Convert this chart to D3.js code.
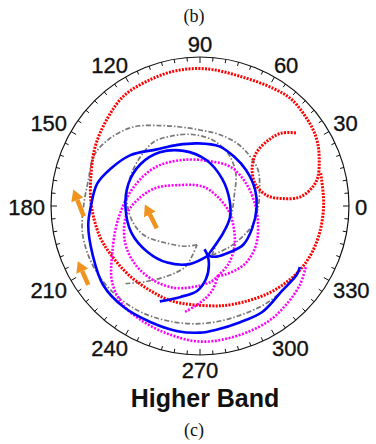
<!DOCTYPE html>
<html>
<head>
<meta charset="utf-8">
<script src="https://cdn.jsdelivr.net/npm/d3@7"></script>
<style>
  html, body { margin: 0; padding: 0; background: #fff; }
  svg { display: block; }
</style>
</head>
<body>
<div id="chart"></div>
<script>
// reflection coefficient loci, [re, im] in units of the outer circle
const redLocus = [
  [0.81,0.22],[0.83,0.01],[0.80,-0.19],[0.73,-0.35],[0.62,-0.48],[0.45,-0.59],[0.22,-0.66],[0.07,-0.67],
  [-0.18,-0.64],[-0.33,-0.57],[-0.47,-0.47],[-0.58,-0.35],[-0.67,-0.21],[-0.73,0.01],[-0.73,0.23],
  [-0.70,0.41],[-0.62,0.59],[-0.51,0.74],[-0.33,0.85],[-0.15,0.91],[0.05,0.92],[0.27,0.87],[0.49,0.79],
  [0.62,0.71],[0.75,0.53],[0.79,0.42],[0.80,0.31],[0.79,0.19],[0.75,0.12],[0.67,0.06],[0.55,0.05],
  [0.45,0.07],[0.37,0.15],[0.35,0.26],[0.38,0.36],[0.47,0.45],[0.55,0.49],[0.65,0.49]
];

const blueTail = [
  [-0.27,-0.64],[-0.13,-0.61],[-0.02,-0.57],[0.04,-0.49],[0.06,-0.39],[0.05,-0.33],[0.03,-0.29]
];
const blueLoops = [
  [0.06,-0.33],[-0.07,-0.39],[-0.22,-0.38],[-0.35,-0.31],[-0.46,-0.18],[-0.50,-0.01],[-0.48,0.15],
  [-0.40,0.28],[-0.27,0.36],[-0.11,0.37],[0.04,0.31],[0.15,0.18],[0.20,0.03],[0.20,-0.08],[0.15,-0.19],
  [0.09,-0.28],[0.06,-0.33],[0.11,-0.34],[0.20,-0.31],[0.29,-0.26],[0.35,-0.15],[0.38,-0.01],[0.37,0.11],
  [0.31,0.24],[0.23,0.33],[0.13,0.40],[-0.01,0.42],[-0.15,0.41],[-0.29,0.38],[-0.47,0.34],[-0.60,0.25],
  [-0.69,0.15],[-0.73,0.01],[-0.75,-0.13],[-0.72,-0.33],[-0.65,-0.53],[-0.51,-0.68],[-0.33,-0.78],
  [-0.15,-0.84],[0,-0.85],[0.11,-0.83],[0.27,-0.78],[0.42,-0.71],[0.55,-0.57],[0.65,-0.46],[0.67,-0.41]
];

const grayTail = [
  [-0.50,-0.52],[-0.38,-0.51],[-0.22,-0.47],[-0.10,-0.41],[-0.05,-0.33],[-0.02,-0.26]
];
const grayInner = [
  [-0.02,-0.26],[-0.10,-0.27],[-0.22,-0.25],[-0.37,-0.20],[-0.45,-0.11],[-0.49,0.03],[-0.47,0.19],
  [-0.40,0.33],[-0.31,0.43],[-0.19,0.47],[-0.05,0.48],[0.09,0.44],[0.19,0.35],[0.24,0.22],[0.23,0.07],
  [0.21,-0.06],[0.17,-0.16],[0.11,-0.26],[0.08,-0.33]
];
const grayOuter = [
  [0.08,-0.33],[0.19,-0.28],[0.28,-0.21],[0.35,-0.13],[0.39,-0.01],[0.40,0.11],[0.39,0.24],[0.33,0.34],
  [0.25,0.42],[0.13,0.48],[0,0.51],[-0.13,0.53],[-0.27,0.54],[-0.45,0.53],[-0.61,0.45],[-0.71,0.34],
  [-0.75,0.17],[-0.78,0.01],[-0.79,-0.17],[-0.75,-0.33],[-0.67,-0.48],[-0.55,-0.61],[-0.40,-0.71],
  [-0.22,-0.77],[0,-0.79],[0.22,-0.75],[0.45,-0.65],[0.58,-0.54],[0.65,-0.45]
];

const magentaTail = [
  [-0.10,-0.71],[0,-0.65],[0.08,-0.57],[0.12,-0.47]
];
const magentaInner = [
  [0.12,-0.47],[0.19,-0.39],[0.23,-0.28],[0.23,-0.17],[0.20,-0.05],[0.13,0.05],[0.02,0.13],[-0.15,0.14],
  [-0.30,0.12],[-0.41,0.05],[-0.49,-0.05],[-0.51,-0.17],[-0.49,-0.29],[-0.42,-0.41],[-0.31,-0.50],
  [-0.17,-0.55],[-0.03,-0.54],[0.07,-0.51],[0.12,-0.47]
];
const magentaOuter = [
  [0.12,-0.47],[0.17,-0.46],[0.30,-0.39],[0.37,-0.28],[0.39,-0.15],[0.37,0.01],[0.31,0.15],[0.21,0.26],
  [0.07,0.30],[-0.11,0.31],[-0.30,0.26],[-0.45,0.12],[-0.55,-0.09],[-0.59,-0.33],[-0.59,-0.51],
  [-0.52,-0.66],[-0.39,-0.77],[-0.21,-0.86],[0,-0.91],[0.22,-0.88],[0.45,-0.78],[0.58,-0.66],
  [0.67,-0.53],[0.71,-0.41]
];

// annotation arrows: [tailRe, tailIm, tipRe, tipIm]
const arrows = [
  [-0.78,-0.07,-0.85,0.11],
  [-0.29,-0.15,-0.37,0.01],
  [-0.75,-0.53,-0.82,-0.37]
];

const tickAngles = d3.range(0, 360, 5);
const labelAngles = d3.range(0, 360, 30);
const bandTitle = 'Higher Band';
const captionTop = '(b)';
const captionBottom = '(c)';

const width = 376, height = 444;
const cx = 200, cy = 206, R = 149;

const svg = d3.select('#chart').append('svg')
  .attr('width', width)
  .attr('height', height);

const x = d3.scaleLinear().domain([-1, 1]).range([cx - R, cx + R]);
const y = d3.scaleLinear().domain([-1, 1]).range([cy + R, cy - R]);
const rad = d => d * Math.PI / 180;

const line = d3.line()
  .x(d => x(d[0]))
  .y(d => y(d[1]))
  .curve(d3.curveCatmullRom.alpha(0.5));

// outer circle and ticks
svg.append('circle')
  .attr('cx', x(0)).attr('cy', y(0)).attr('r', x(1) - x(0))
  .attr('fill', 'none').attr('stroke', '#111').attr('stroke-width', 1.2);

svg.selectAll('.tick').data(tickAngles).enter().append('line')
  .attr('x1', a => x(Math.cos(rad(a))))
  .attr('y1', a => y(Math.sin(rad(a))))
  .attr('x2', a => x(Math.cos(rad(a)) * (1 - (a % 30 === 0 ? 6 : 4) / R)))
  .attr('y2', a => y(Math.sin(rad(a)) * (1 - (a % 30 === 0 ? 6 : 4) / R)))
  .attr('stroke', '#111').attr('stroke-width', 1);

const lab = svg.append('g')
  .attr('font-family', '"Liberation Sans", Arial, sans-serif')
  .attr('font-size', 22)
  .attr('fill', '#111')
  .attr('stroke', '#111')
  .attr('stroke-width', 0.35);

lab.selectAll('text').data(labelAngles).enter().append('text')
  .attr('text-anchor', 'middle')
  .attr('dominant-baseline', 'central')
  .each(function(a) {
    const t = d3.select(this).text(String(a));
    const w = String(a).length * 12.2;
    const c = Math.cos(rad(a)), s = Math.sin(rad(a));
    const k = 1 + 6 / R;
    const dx = Math.sign(c) * Math.sqrt(Math.abs(c)) * w / 2;
    const dy = Math.sign(s) * Math.sqrt(Math.abs(s)) * 8;
    t.attr('x', x(c * k) + dx).attr('y', y(s * k) - dy + 1);
  });

// loci
function drawLocus(data, color, w, dash) {
  svg.append('path')
    .datum(data)
    .attr('fill', 'none')
    .attr('stroke', color)
    .attr('stroke-width', w)
    .attr('stroke-dasharray', dash)
    .attr('d', line);
}

[grayTail, grayInner, grayOuter].forEach(d => drawLocus(d, '#777', 1.7, '5,2,1.5,2'));
drawLocus(redLocus, '#ff0000', 3, '2,1.3');
[magentaTail, magentaInner, magentaOuter].forEach(d => drawLocus(d, '#ff00ff', 2.6, '2,1.5'));
[blueTail, blueLoops].forEach(d => drawLocus(d, '#0000ff', 2.6, null));

// orange arrows
const arrowColor = '#f0921e';
arrows.forEach(a => {
  const x0 = x(a[0]), y0 = y(a[1]), x1 = x(a[2]), y1 = y(a[3]);
  const ang = Math.atan2(y1 - y0, x1 - x0);
  const headL = 11, headW = 6.5;
  const bx = x1 - headL * Math.cos(ang), by = y1 - headL * Math.sin(ang);
  svg.append('line')
    .attr('x1', x0).attr('y1', y0).attr('x2', bx).attr('y2', by)
    .attr('stroke', arrowColor).attr('stroke-width', 4.5);
  const px = -Math.sin(ang), py = Math.cos(ang);
  svg.append('path')
    .attr('d', `M${x1},${y1}L${bx + px * headW},${by + py * headW}L${bx - px * headW},${by - py * headW}Z`)
    .attr('fill', arrowColor);
});

// texts
svg.append('text')
  .attr('x', 205).attr('y', 407)
  .attr('text-anchor', 'middle')
  .attr('font-family', '"Liberation Sans", Arial, sans-serif')
  .attr('font-weight', 'bold')
  .attr('font-size', 25)
  .attr('fill', '#111')
  .text(bandTitle);

svg.append('text')
  .attr('x', 194).attr('y', 22)
  .attr('text-anchor', 'middle')
  .attr('font-family', '"Liberation Serif", "Times New Roman", serif')
  .attr('font-size', 18)
  .attr('fill', '#111')
  .text(captionTop);

svg.append('text')
  .attr('x', 194).attr('y', 436)
  .attr('text-anchor', 'middle')
  .attr('font-family', '"Liberation Serif", "Times New Roman", serif')
  .attr('font-size', 18)
  .attr('fill', '#111')
  .text(captionBottom);
</script>
</body>
</html>
